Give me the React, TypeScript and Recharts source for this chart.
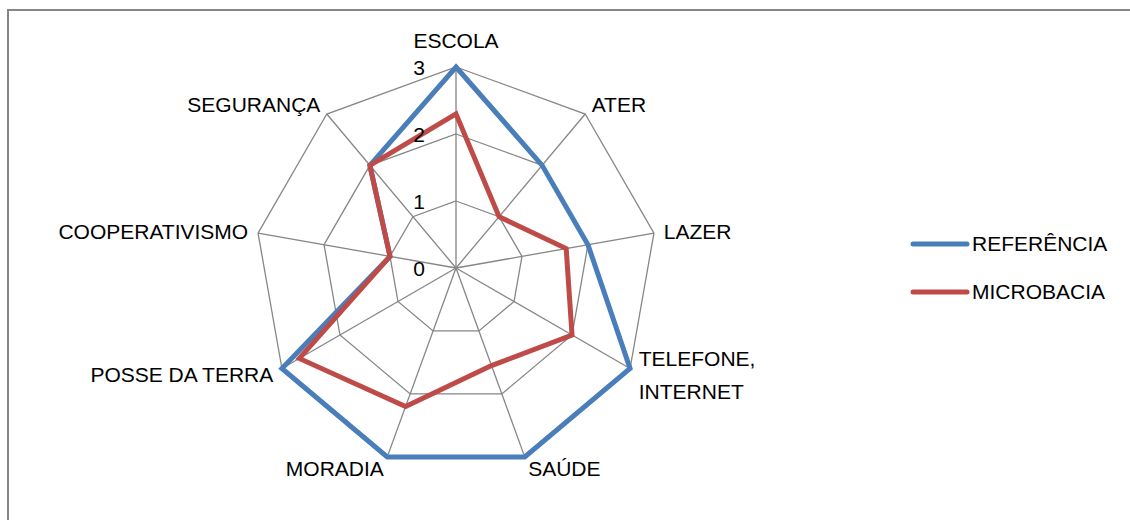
import React from 'react';
import { RadarChart, Radar, PolarGrid, PolarAngleAxis, PolarRadiusAxis, Legend } from 'recharts';

const categories = ['ESCOLA', 'ATER', 'LAZER', 'TELEFONE, INTERNET', 'SAÚDE', 'MORADIA', 'POSSE DA TERRA', 'COOPERATIVISMO', 'SEGURANÇA'];
const referencia = [3, 2, 2, 3, 3, 3, 3, 1, 2];
const microbacia = [2.3, 1, 1.67, 2, 1.55, 2.2, 2.7, 1, 2];
const radiusTicks = [0, 1, 2, 3];
const seriesNames = ['REFERÊNCIA', 'MICROBACIA'];

const data = categories.map((c, i) => ({ cat: c, ref: referencia[i], mic: microbacia[i] }));

const CX = 456;
const CY = 268;
const R = 201;
const FONT = "'Liberation Sans', Arial, sans-serif";
const FS = 21;

function AngleTick(props: any) {
  const { payload } = props;
  const a = (payload.coordinate * Math.PI) / 180;
  const sx = Math.cos(a);
  const sy = -Math.sin(a);
  const vx = CX + R * sx;
  const vy = CY + R * sy;
  let anchor: 'start' | 'middle' | 'end' = 'middle';
  if (sx > 0.1) anchor = 'start';
  else if (sx < -0.1) anchor = 'end';
  const x = vx + 10 * sx;
  let yc = vy + 12 * sy;
  if (anchor === 'middle') yc += sy < 0 ? -15 : 15;
  const label = String(payload.value);
  const lines = label.includes(', ') ? [label.split(', ')[0] + ',', label.split(', ')[1]] : [label];
  const lh = 33;
  const y0 = yc - ((lines.length - 1) * lh) / 2;
  return (
    <text x={x} y={y0 + 7.5} textAnchor={anchor} fontSize={FS} fontFamily={FONT} fill="#000">
      {lines.map((l, i) => (
        <tspan key={i} x={x} y={y0 + 7.5 + i * lh}>
          {l}
        </tspan>
      ))}
    </text>
  );
}

function RadiusTick(props: any) {
  const { x, y, payload } = props;
  return (
    <text x={x - 37} y={y + 7.5} textAnchor="middle" fontSize={FS} fontFamily={FONT} fill="#000">
      {payload.value}
    </text>
  );
}

function LegendContent(props: any) {
  const payload = [...(props.payload || [])].sort(
    (a: any, b: any) => seriesNames.indexOf(a.value) - seriesNames.indexOf(b.value)
  );
  return (
    <div style={{ fontFamily: FONT, fontSize: FS, color: '#000' }}>
      {payload.map((e: any, i: number) => (
        <div key={i} style={{ display: 'flex', alignItems: 'center', height: 48 }}>
          <svg width={60} height={10} style={{ display: 'block' }}>
            <line x1={3} y1={5} x2={57} y2={5} stroke={e.color} strokeWidth={5} strokeLinecap="round" />
          </svg>
          <span style={{ marginLeft: 2 }}>{e.value}</span>
        </div>
      ))}
    </div>
  );
}

export default function App() {
  return (
    <div style={{ position: 'absolute', left: 0, top: 0, width: 1130, height: 520, overflow: 'hidden', background: '#fff' }}>
      <div
        style={{
          position: 'absolute',
          left: 7,
          top: 9,
          width: 1200,
          height: 600,
          borderLeft: '2px solid #868686',
          borderTop: '2px solid #868686',
        }}
      />
      <div style={{ position: 'absolute', left: 0, top: 0 }}>
        <RadarChart
          width={1130}
          height={520}
          data={data}
          cx={CX}
          cy={CY}
          outerRadius={R}
          margin={{ top: 0, right: 0, bottom: 0, left: 0 }}
        >
          <PolarGrid gridType="polygon" stroke="#868686" strokeWidth={1.3} />
          <PolarAngleAxis dataKey="cat" tick={AngleTick} tickLine={false} axisLine={false} />
          <PolarRadiusAxis
            angle={90}
            domain={[0, 3]}
            ticks={radiusTicks as any}
            tickCount={4}
            axisLine={false}
            tickLine={false}
            tick={RadiusTick}
          />
          <Radar
            name={seriesNames[0]}
            dataKey="ref"
            stroke="#4A7EBB"
            strokeWidth={5}
            fill="none"
            fillOpacity={0}
            dot={false}
            isAnimationActive={false}
          />
          <Radar
            name={seriesNames[1]}
            dataKey="mic"
            stroke="#BE4B48"
            strokeWidth={5}
            fill="none"
            fillOpacity={0}
            dot={false}
            isAnimationActive={false}
          />
          <Legend
            layout="vertical"
            align="right"
            verticalAlign="top"
            content={LegendContent}
            wrapperStyle={{ position: 'absolute', left: 910, top: 220, width: 220 }}
          />
        </RadarChart>
      </div>
    </div>
  );
}
